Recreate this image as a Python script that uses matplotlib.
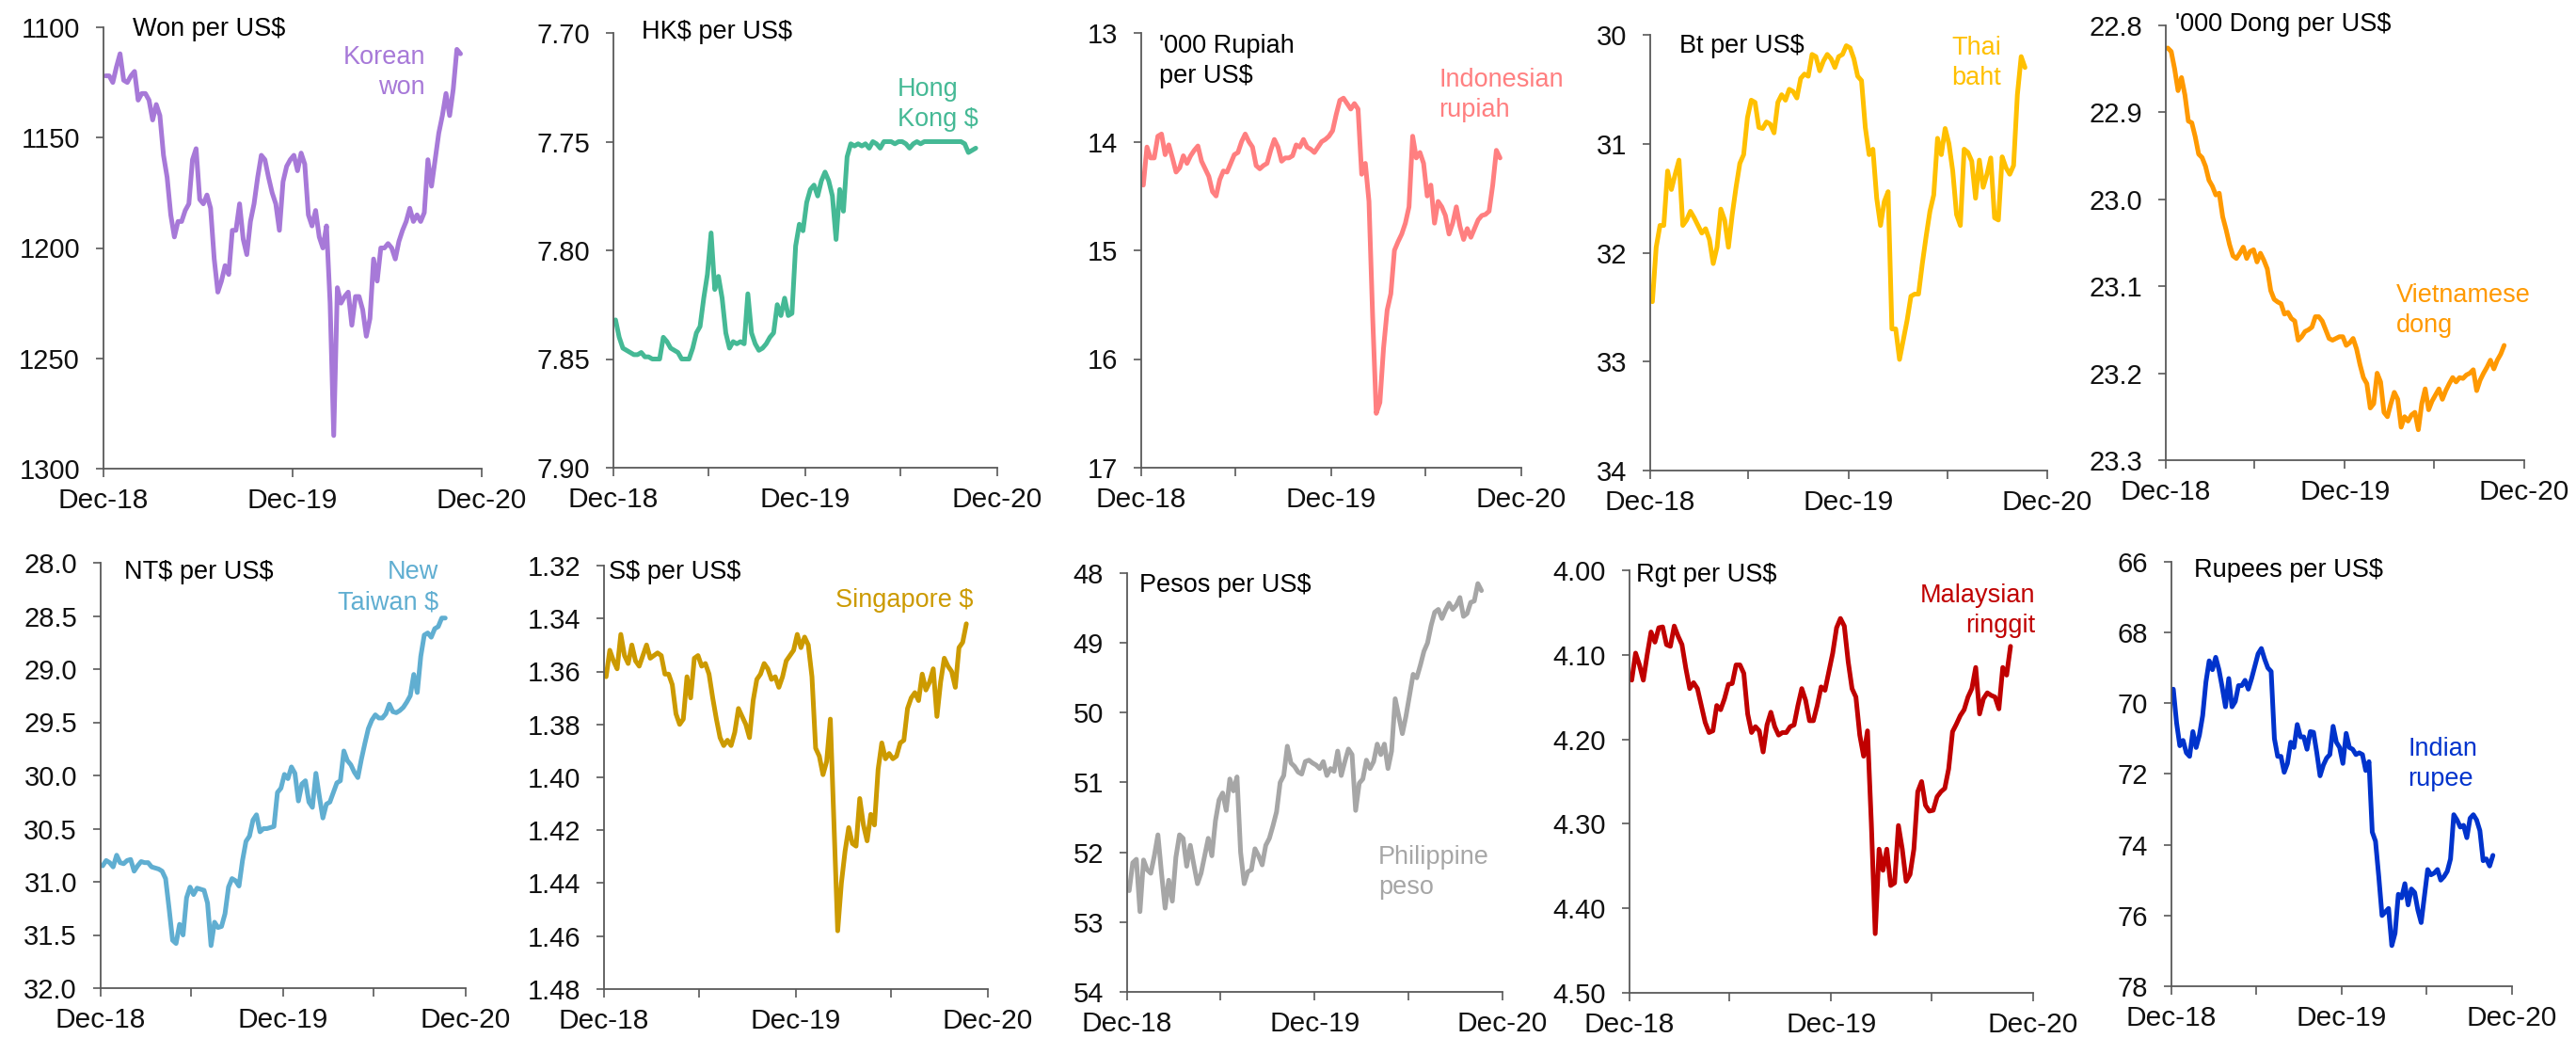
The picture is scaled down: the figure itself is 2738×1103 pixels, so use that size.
import matplotlib
matplotlib.use('Agg')
import matplotlib.pyplot as plt
import matplotlib.dates as mdates
import pandas as pd

plt.rcParams['font.family'] = ['Liberation Sans', 'DejaVu Sans']

# ---------------- data (weekly) ----------------
dates = pd.date_range('2019-01-04', periods=99, freq='W-FRI')

korean_won = [1122, 1122, 1125, 1118, 1112, 1124, 1125, 1122, 1120, 1133,
              1130, 1130, 1133, 1142, 1135, 1140, 1158, 1168, 1185, 1195,
              1188, 1188, 1183, 1180, 1160, 1155, 1178, 1180, 1176, 1182,
              1205, 1220, 1215, 1208, 1212, 1192, 1192, 1180, 1196, 1203,
              1188, 1180, 1168, 1158, 1160, 1168, 1175, 1180, 1192, 1170,
              1163, 1160, 1158, 1165, 1157, 1162, 1185, 1190, 1183, 1195,
              1200, 1190, 1225, 1285, 1218, 1225, 1222, 1220, 1235, 1222,
              1222, 1228, 1240, 1232, 1205, 1215, 1200, 1200, 1198, 1200,
              1205, 1197, 1192, 1188, 1182, 1188, 1185, 1188, 1184, 1160,
              1172, 1160, 1148, 1140, 1130, 1140, 1128, 1110, 1112]

hk_dollar = [7.832, 7.840, 7.845, 7.846, 7.847, 7.848, 7.848, 7.847, 7.849, 7.849,
             7.850, 7.850, 7.850, 7.840, 7.842, 7.845, 7.846, 7.847, 7.850, 7.850,
             7.850, 7.845, 7.838, 7.835, 7.822, 7.811, 7.792, 7.818, 7.812, 7.822,
             7.838, 7.845, 7.842, 7.843, 7.842, 7.843, 7.820, 7.838, 7.843, 7.846,
             7.845, 7.843, 7.840, 7.838, 7.825, 7.830, 7.822, 7.830, 7.829, 7.798,
             7.788, 7.791, 7.778, 7.772, 7.770, 7.775, 7.768, 7.764, 7.768, 7.775,
             7.795, 7.772, 7.782, 7.757, 7.751, 7.752, 7.751, 7.752, 7.751, 7.753,
             7.750, 7.751, 7.753, 7.750, 7.750, 7.750, 7.751, 7.750, 7.750, 7.751,
             7.753, 7.751, 7.750, 7.751, 7.750, 7.750, 7.750, 7.750, 7.750, 7.750,
             7.750, 7.750, 7.750, 7.750, 7.750, 7.751, 7.755, 7.754, 7.753]

indonesian_rupiah = [14.40, 14.05, 14.15, 14.15, 13.95, 13.93, 14.12, 14.03, 14.15, 14.28,
                     14.24, 14.13, 14.20, 14.13, 14.08, 14.04, 14.18, 14.25, 14.32, 14.46,
                     14.50, 14.35, 14.27, 14.28, 14.20, 14.12, 14.10, 14.00, 13.93, 14.00,
                     14.05, 14.22, 14.25, 14.22, 14.20, 14.08, 13.98, 14.05, 14.18, 14.15,
                     14.15, 14.13, 14.03, 14.05, 13.98, 14.05, 14.07, 14.10, 14.05, 14.00,
                     13.98, 13.95, 13.90, 13.75, 13.62, 13.60, 13.65, 13.70, 13.65, 13.70,
                     14.30, 14.20, 14.55, 15.60, 16.50, 16.40, 15.90, 15.55, 15.40, 15.00,
                     14.92, 14.85, 14.75, 14.60, 13.95, 14.15, 14.10, 14.20, 14.50, 14.40,
                     14.75, 14.55, 14.60, 14.68, 14.85, 14.75, 14.60, 14.78, 14.90, 14.80,
                     14.88, 14.80, 14.72, 14.68, 14.67, 14.64, 14.40, 14.08, 14.15]

thai_baht = [32.45, 31.95, 31.75, 31.75, 31.25, 31.42, 31.28, 31.15, 31.75, 31.70,
             31.62, 31.68, 31.75, 31.82, 31.78, 31.88, 32.10, 31.95, 31.60, 31.70,
             31.95, 31.65, 31.40, 31.18, 31.10, 30.76, 30.60, 30.62, 30.85, 30.86,
             30.80, 30.82, 30.90, 30.62, 30.55, 30.60, 30.50, 30.52, 30.58, 30.40,
             30.36, 30.38, 30.18, 30.20, 30.33, 30.24, 30.18, 30.22, 30.30, 30.20,
             30.18, 30.10, 30.12, 30.22, 30.38, 30.42, 30.85, 31.10, 31.05, 31.50,
             31.75, 31.53, 31.44, 32.70, 32.70, 32.98, 32.80, 32.62, 32.40, 32.38,
             32.38, 32.10, 31.85, 31.62, 31.47, 30.95, 31.10, 30.86, 31.00, 31.25,
             31.65, 31.75, 31.05, 31.08, 31.16, 31.50, 31.15, 31.40, 31.28, 31.13,
             31.68, 31.70, 31.12, 31.22, 31.28, 31.20, 30.55, 30.20, 30.30]

vietnamese_dong = [22.826, 22.830, 22.850, 22.875, 22.860, 22.880, 22.910, 22.912, 22.928, 22.948,
                   22.952, 22.962, 22.978, 22.985, 22.995, 22.993, 23.020, 23.035, 23.052, 23.065,
                   23.068, 23.062, 23.055, 23.068, 23.060, 23.058, 23.072, 23.062, 23.070, 23.080,
                   23.105, 23.115, 23.118, 23.120, 23.132, 23.130, 23.137, 23.140, 23.162, 23.158,
                   23.152, 23.150, 23.147, 23.135, 23.135, 23.140, 23.150, 23.160, 23.162, 23.160,
                   23.158, 23.158, 23.168, 23.165, 23.160, 23.172, 23.190, 23.205, 23.212, 23.240,
                   23.235, 23.200, 23.210, 23.245, 23.250, 23.235, 23.222, 23.230, 23.262, 23.250,
                   23.255, 23.248, 23.245, 23.265, 23.235, 23.218, 23.242, 23.232, 23.225, 23.218,
                   23.230, 23.220, 23.212, 23.205, 23.210, 23.205, 23.206, 23.202, 23.200, 23.196,
                   23.220, 23.208, 23.200, 23.193, 23.185, 23.195, 23.185, 23.178, 23.168]

taiwan_dollar = [30.85, 30.80, 30.82, 30.86, 30.75, 30.82, 30.83, 30.80, 30.79, 30.90,
                 30.85, 30.81, 30.82, 30.82, 30.86, 30.87, 30.88, 30.90, 30.97, 31.25,
                 31.55, 31.58, 31.40, 31.50, 31.15, 31.05, 31.12, 31.06, 31.07, 31.08,
                 31.20, 31.60, 31.38, 31.43, 31.42, 31.30, 31.05, 30.97, 30.99, 31.04,
                 30.80, 30.62, 30.57, 30.42, 30.37, 30.53, 30.50, 30.50, 30.49, 30.48,
                 30.16, 30.12, 29.99, 30.03, 29.92, 29.98, 30.24, 30.08, 30.05, 30.25,
                 30.30, 29.98, 30.20, 30.40, 30.27, 30.25, 30.16, 30.07, 30.05, 29.77,
                 29.86, 29.90, 29.97, 30.02, 29.85, 29.70, 29.56, 29.48, 29.43, 29.46,
                 29.46, 29.42, 29.33, 29.40, 29.41, 29.39, 29.36, 29.31, 29.25, 29.05,
                 29.22, 28.88, 28.68, 28.66, 28.70, 28.62, 28.60, 28.52, 28.52]

singapore_dollar = [1.362, 1.352, 1.356, 1.359, 1.346, 1.354, 1.357, 1.350, 1.356, 1.358,
                    1.354, 1.350, 1.355, 1.354, 1.353, 1.354, 1.361, 1.361, 1.365, 1.376,
                    1.380, 1.378, 1.362, 1.370, 1.355, 1.354, 1.358, 1.357, 1.361, 1.370,
                    1.378, 1.385, 1.388, 1.386, 1.388, 1.383, 1.374, 1.377, 1.380, 1.385,
                    1.371, 1.363, 1.361, 1.357, 1.359, 1.363, 1.362, 1.366, 1.362, 1.356,
                    1.354, 1.352, 1.346, 1.351, 1.347, 1.350, 1.362, 1.389, 1.392, 1.399,
                    1.394, 1.378, 1.418, 1.458, 1.440, 1.428, 1.419, 1.425, 1.426, 1.408,
                    1.418, 1.424, 1.414, 1.418, 1.397, 1.387, 1.393, 1.391, 1.393, 1.392,
                    1.387, 1.386, 1.374, 1.370, 1.368, 1.371, 1.361, 1.367, 1.364, 1.359,
                    1.377, 1.364, 1.355, 1.358, 1.360, 1.366, 1.351, 1.349, 1.342]

philippine_peso = [52.55, 52.15, 52.10, 52.85, 52.11, 52.25, 52.30, 52.05, 51.75, 52.30,
                   52.80, 52.40, 52.70, 52.07, 51.75, 51.80, 52.20, 51.90, 52.18, 52.45,
                   52.30, 52.05, 51.80, 52.05, 51.55, 51.25, 51.15, 51.40, 50.95, 51.12,
                   50.92, 52.00, 52.45, 52.28, 52.25, 51.95, 52.05, 52.18, 51.90, 51.80,
                   51.62, 51.42, 51.00, 50.90, 50.48, 50.72, 50.77, 50.85, 50.88, 50.70,
                   50.68, 50.72, 50.75, 50.80, 50.70, 50.90, 50.80, 50.84, 50.55, 50.90,
                   50.70, 50.52, 50.60, 51.40, 51.01, 50.95, 50.68, 50.80, 50.70, 50.45,
                   50.60, 50.45, 50.80, 50.55, 49.80, 50.05, 50.30, 50.05, 49.75, 49.45,
                   49.50, 49.32, 49.12, 49.00, 48.75, 48.56, 48.52, 48.65, 48.53, 48.43,
                   48.52, 48.46, 48.35, 48.62, 48.58, 48.42, 48.40, 48.15, 48.25]

malaysian_ringgit = [4.130, 4.098, 4.112, 4.130, 4.100, 4.073, 4.085, 4.068, 4.067, 4.088,
                     4.090, 4.066, 4.078, 4.088, 4.116, 4.140, 4.133, 4.140, 4.160, 4.180,
                     4.192, 4.190, 4.160, 4.165, 4.152, 4.135, 4.134, 4.112, 4.112, 4.122,
                     4.170, 4.192, 4.185, 4.190, 4.215, 4.183, 4.168, 4.185, 4.195, 4.192,
                     4.192, 4.185, 4.183, 4.160, 4.140, 4.154, 4.178, 4.178, 4.160, 4.138,
                     4.142, 4.120, 4.098, 4.068, 4.057, 4.066, 4.108, 4.140, 4.150, 4.195,
                     4.220, 4.190, 4.300, 4.430, 4.330, 4.355, 4.330, 4.373, 4.370, 4.302,
                     4.330, 4.368, 4.360, 4.330, 4.262, 4.250, 4.278, 4.285, 4.284, 4.268,
                     4.262, 4.258, 4.235, 4.191, 4.182, 4.172, 4.165, 4.150, 4.140, 4.115,
                     4.170, 4.152, 4.145, 4.148, 4.150, 4.164, 4.115, 4.124, 4.090]

indian_rupee = [69.60, 70.55, 71.20, 71.05, 71.40, 71.50, 70.80, 71.25, 70.90, 70.35,
                69.40, 68.80, 69.05, 68.70, 69.05, 69.55, 70.10, 69.30, 70.10, 69.95,
                69.50, 69.50, 69.35, 69.60, 69.30, 68.95, 68.60, 68.45, 68.75, 69.00,
                69.10, 71.00, 71.50, 71.50, 71.95, 71.70, 71.10, 71.25, 70.60, 70.95,
                70.95, 71.30, 70.80, 70.82, 71.40, 72.05, 71.75, 71.55, 71.45, 70.65,
                71.10, 71.25, 71.70, 70.85, 71.25, 71.30, 71.45, 71.40, 71.45, 71.90,
                71.65, 73.64, 73.90, 74.90, 76.00, 75.90, 75.80, 76.85, 76.50, 75.40,
                75.50, 75.10, 75.70, 75.25, 75.35, 75.85, 76.20, 75.45, 74.70, 74.85,
                74.80, 74.70, 75.00, 74.90, 74.75, 74.40, 73.15, 73.30, 73.50, 73.45,
                73.80, 73.25, 73.15, 73.30, 73.60, 74.45, 74.40, 74.60, 74.30]

x_tick_dates = ['2018-12-31', '2019-12-31', '2020-12-31']
x_minor_dates = ['2019-06-30', '2020-06-30']

# ---------------- layout ----------------
W, H = 2738, 1103
fig = plt.figure(figsize=(W / 100, H / 100), dpi=100)
AX_COL = '#595959'


def fx(px):
    return px / W


def fy(py):
    return 1 - py / H


panels = [
    # values, colour, (left, right, top, bottom) px, (ymax, ymin), step, fmt, title, title xy, label, label xy, ha, minor
    (korean_won, '#A779D8', (110, 512, 29, 498), (1300, 1100), 50, '{:.0f}',
     'Won per US$', (141, 18), 'Korean\nwon', (452, 48), 'right', False),
    (hk_dollar, '#45B995', (652, 1060, 35, 497), (7.90, 7.70), 0.05, '{:.2f}',
     'HK$ per US$', (682, 21), 'Hong\nKong $', (954, 82), 'left', True),
    (indonesian_rupiah, '#FF7F80', (1213, 1617, 35, 497), (17, 13), 1, '{:.0f}',
     "'000 Rupiah\nper US$", (1232, 36), 'Indonesian\nrupiah', (1529, 72), 'left', True),
    (thai_baht, '#FFC000', (1754, 2176, 37, 500), (34, 30), 1, '{:.0f}',
     'Bt per US$', (1785, 36), 'Thai\nbaht', (2127, 38), 'right', True),
    (vietnamese_dong, '#FF9900', (2302, 2683, 27, 489), (23.3, 22.8), 0.1, '{:.1f}',
     "'000 Dong per US$", (2312, 13), 'Vietnamese\ndong', (2547, 301), 'left', True),
    (taiwan_dollar, '#60AED1', (107, 495, 598, 1050), (32.0, 28.0), 0.5, '{:.1f}',
     'NT$ per US$', (132, 595), 'New\nTaiwan $', (466, 595), 'right', True),
    (singapore_dollar, '#CC9A00', (642, 1050, 601, 1051), (1.48, 1.32), 0.02, '{:.2f}',
     'S$ per US$', (647, 595), 'Singapore $', (1035, 625), 'right', True),
    (philippine_peso, '#A6A6A6', (1198, 1597, 609, 1054), (54, 48), 1, '{:.0f}',
     'Pesos per US$', (1211, 609), 'Philippine\npeso', (1465, 898), 'left', True),
    (malaysian_ringgit, '#C00000', (1732, 2161, 606, 1055), (4.50, 4.00), 0.1, '{:.2f}',
     'Rgt per US$', (1739, 598), 'Malaysian\nringgit', (2163, 620), 'right', True),
    (indian_rupee, '#0033CC', (2308, 2670, 597, 1048), (78, 66), 2, '{:.0f}',
     'Rupees per US$', (2332, 593), 'Indian\nrupee', (2559, 783), 'left', True),
]

xmin, xmax = pd.Timestamp(x_tick_dates[0]), pd.Timestamp(x_tick_dates[-1])

for (vals, col, box, ylim, step, fmt, title, tpos, label, lpos, ha, minor) in panels:
    l, r, t, b = box
    ax = fig.add_axes([fx(l), fy(b), fx(r - l), (b - t) / H])
    ax.plot(dates, vals, color=col, lw=3.6, solid_joinstyle='round', solid_capstyle='round')
    ax.set_xlim(xmin, xmax)
    ax.set_ylim(ylim[0], ylim[1])
    lo, hi = min(ylim), max(ylim)
    n = int(round((hi - lo) / step))
    ticks = [lo + k * step for k in range(n + 1)]
    ax.set_yticks(ticks)
    ax.set_yticklabels([fmt.format(v) for v in ticks])
    ax.set_xticks([pd.Timestamp(d) for d in x_tick_dates])
    ax.xaxis.set_major_formatter(mdates.DateFormatter('%b-%y'))
    if minor:
        ax.set_xticks([pd.Timestamp(d) for d in x_minor_dates], minor=True)
    for s in ('top', 'right'):
        ax.spines[s].set_visible(False)
    for s in ('left', 'bottom'):
        ax.spines[s].set_color(AX_COL)
        ax.spines[s].set_linewidth(1.3)
    ax.tick_params(axis='y', which='both', direction='out', length=6, width=1.2,
                   color=AX_COL, labelsize=21, pad=12, labelcolor='#111111')
    ax.tick_params(axis='x', which='major', direction='out', length=6.5, width=1.2,
                   color=AX_COL, labelsize=21.5, pad=8, labelcolor='#111111')
    ax.tick_params(axis='x', which='minor', direction='out', length=6.5, width=1.2,
                   color=AX_COL)
    ax.patch.set_alpha(0)
    fig.text(fx(tpos[0]), fy(tpos[1]), title, ha='left', va='top', fontsize=19.5,
             color='#000000', linespacing=1.3, parse_math=False)
    fig.text(fx(lpos[0]), fy(lpos[1]), label, ha=ha, va='top', fontsize=19.5,
             color=col, linespacing=1.3, multialignment=ha, parse_math=False)

fig.savefig('out.png', dpi=100, facecolor='white')
